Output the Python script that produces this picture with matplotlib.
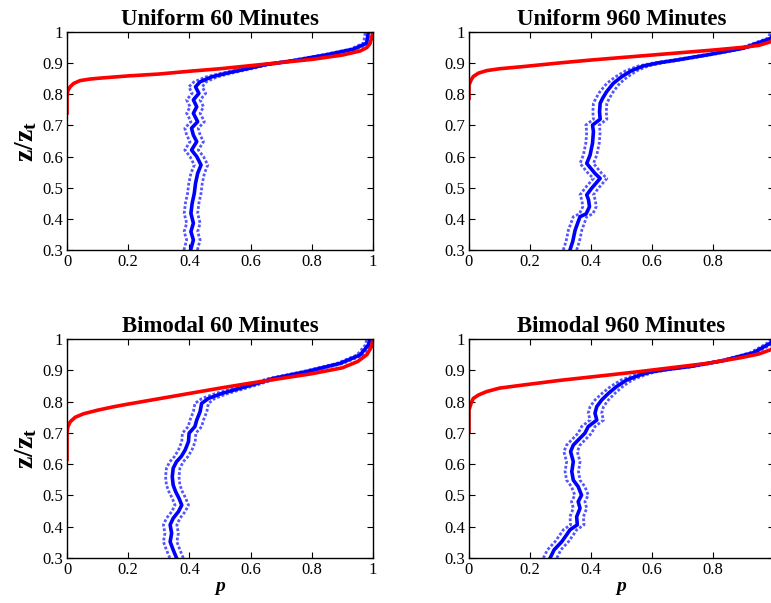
import matplotlib
matplotlib.use("Agg")
import matplotlib.pyplot as plt
import numpy as np

plt.rcParams['font.family'] = ['Liberation Serif', 'DejaVu Serif']
plt.rcParams['mathtext.fontset'] = 'custom'
plt.rcParams['mathtext.rm'] = 'Liberation Serif'
plt.rcParams['mathtext.it'] = 'Liberation Serif:italic'
plt.rcParams['mathtext.bf'] = 'Liberation Serif:bold'

titles = ["Uniform 60 Minutes", "Uniform 960 Minutes", "Bimodal 60 Minutes", "Bimodal 960 Minutes"]

# ---- red curves (p, z) ----
red_p_u60 = [0, 0, 0.003, 0.011, 0.022, 0.043, 0.076, 0.109, 0.2, 0.3, 0.4, 0.5, 0.6, 0.7, 0.8, 0.9,
             0.958, 0.98, 0.99, 0.995, 1.0]
red_z_u60 = [0.74, 0.793, 0.812, 0.825, 0.835, 0.844, 0.849, 0.852, 0.859, 0.865, 0.874, 0.882, 0.892,
             0.902, 0.912, 0.926, 0.939, 0.95, 0.962, 0.98, 1.0]

red_p_u960 = [0, 0, 0.007, 0.014, 0.031, 0.058, 0.1, 0.178, 0.3, 0.4, 0.5, 0.6, 0.7, 0.8, 0.9, 0.95,
              0.99, 1.0]
red_z_u960 = [0.787, 0.83, 0.846, 0.857, 0.868, 0.876, 0.882, 0.889, 0.901, 0.91, 0.918, 0.926, 0.934,
              0.942, 0.951, 0.957, 0.969, 0.98]

red_p_b60 = [0, 0, 0.003, 0.011, 0.027, 0.054, 0.098, 0.15, 0.2, 0.3, 0.4, 0.5, 0.6, 0.7, 0.8, 0.9, 0.95,
             0.98, 0.995, 1.0]
red_z_b60 = [0.615, 0.70, 0.72, 0.736, 0.75, 0.761, 0.772, 0.783, 0.792, 0.809, 0.826, 0.843, 0.859, 0.874,
             0.889, 0.908, 0.928, 0.95, 0.975, 1.0]

red_p_b960 = [0, 0, 0.007, 0.014, 0.031, 0.058, 0.1, 0.178, 0.3, 0.45, 0.56, 0.67, 0.78, 0.89, 0.95,
              0.99, 1.0]
red_z_b960 = [0.704, 0.773, 0.795, 0.81, 0.821, 0.832, 0.843, 0.853, 0.868, 0.884, 0.896, 0.909,
              0.922, 0.94, 0.952, 0.966, 0.975]

# ---- blue curves (p, z) and confidence half-widths ----
blue_p_u60 = [0.404, 0.413, 0.405, 0.413, 0.405, 0.409, 0.416, 0.420, 0.427, 0.438, 0.424, 0.407, 0.424,
              0.413, 0.407, 0.427, 0.413, 0.424, 0.413, 0.431, 0.420, 0.435, 0.473, 0.527, 0.593, 0.647,
              0.74, 0.849, 0.936, 0.979, 0.985]
blue_z_u60 = [0.300, 0.332, 0.359, 0.386, 0.418, 0.450, 0.482, 0.514, 0.546, 0.573, 0.600, 0.621, 0.648,
              0.669, 0.691, 0.712, 0.739, 0.760, 0.782, 0.803, 0.824, 0.840, 0.856, 0.869, 0.883, 0.895,
              0.908, 0.927, 0.945, 0.964, 1.0]
band_u60 = [0.022] * 21 + [0.02, 0.018, 0.016, 0.014, 0.013, 0.012, 0.011, 0.01, 0.01, 0.01]

blue_p_u960 = [0.331, 0.340, 0.348, 0.358, 0.364, 0.384, 0.395, 0.392, 0.386, 0.402, 0.430, 0.413, 0.386,
               0.397, 0.405, 0.408, 0.405, 0.430, 0.428, 0.430, 0.438, 0.451, 0.473, 0.500, 0.533, 0.572,
               0.621, 0.681, 0.79, 0.899, 0.99, 1.0]
blue_z_u960 = [0.300, 0.327, 0.364, 0.391, 0.407, 0.416, 0.439, 0.461, 0.477, 0.498, 0.530, 0.546, 0.578,
               0.605, 0.643, 0.680, 0.701, 0.720, 0.744, 0.771, 0.787, 0.808, 0.835, 0.856, 0.876, 0.891,
               0.901, 0.910, 0.928, 0.948, 0.980, 1.0]
band_u960 = [0.022] * 22 + [0.021, 0.02, 0.018, 0.016, 0.014, 0.012, 0.01, 0.01, 0.01, 0.01]

blue_p_b60 = [0.358, 0.347, 0.337, 0.342, 0.337, 0.347, 0.364, 0.375, 0.366, 0.355, 0.347, 0.344, 0.347,
              0.358, 0.373, 0.386, 0.397, 0.399, 0.418, 0.424, 0.435, 0.440, 0.462, 0.506, 0.571, 0.614,
              0.674, 0.783, 0.892, 0.958, 0.985, 0.99]
blue_z_b60 = [0.300, 0.326, 0.352, 0.379, 0.406, 0.427, 0.448, 0.469, 0.491, 0.512, 0.533, 0.560, 0.587,
              0.608, 0.624, 0.645, 0.672, 0.699, 0.720, 0.741, 0.768, 0.794, 0.810, 0.826, 0.844, 0.856,
              0.874, 0.896, 0.922, 0.949, 0.981, 1.0]
band_b60 = [0.022] * 22 + [0.021, 0.02, 0.018, 0.016, 0.014, 0.012, 0.01, 0.01, 0.01, 0.01]

blue_p_b960 = [0.266, 0.279, 0.304, 0.320, 0.331, 0.355, 0.353, 0.364, 0.358, 0.369, 0.358, 0.342, 0.337,
               0.342, 0.333, 0.342, 0.364, 0.380, 0.391, 0.419, 0.413, 0.419, 0.435, 0.457, 0.484, 0.517,
               0.561, 0.593, 0.65, 0.725, 0.834, 0.932, 0.987, 1.0]
blue_z_b960 = [0.300, 0.326, 0.352, 0.374, 0.390, 0.406, 0.432, 0.459, 0.480, 0.501, 0.528, 0.549, 0.576,
               0.608, 0.640, 0.661, 0.683, 0.699, 0.720, 0.741, 0.763, 0.784, 0.805, 0.826, 0.848, 0.869,
               0.885, 0.894, 0.903, 0.912, 0.931, 0.956, 0.986, 1.0]
band_b960 = [0.022] * 23 + [0.021, 0.02, 0.018, 0.016, 0.014, 0.013, 0.012, 0.01, 0.01, 0.01, 0.01]

red_p = [red_p_u60, red_p_u960, red_p_b60, red_p_b960]
red_z = [red_z_u60, red_z_u960, red_z_b60, red_z_b960]
blue_p = [blue_p_u60, blue_p_u960, blue_p_b60, blue_p_b960]
blue_z = [blue_z_u60, blue_z_u960, blue_z_b60, blue_z_b960]
bands = [band_u60, band_u960, band_b60, band_b960]

xticks = [0, 0.2, 0.4, 0.6, 0.8, 1.0]
xticklabels_left = ['0', '0.2', '0.4', '0.6', '0.8', '1']
xticklabels_right = ['0', '0.2', '0.4', '0.6', '0.8', '']  # '1' falls beyond the figure edge
yticks = [0.3, 0.4, 0.5, 0.6, 0.7, 0.8, 0.9, 1.0]
yticklabels = ['0.3', '0.4', '0.5', '0.6', '0.7', '0.8', '0.9', '1']

W, H = 771, 603
fig = plt.figure(figsize=(W / 100, H / 100), dpi=100)
boxes = [(67, 32, 306, 218), (469, 32, 305, 218), (67, 339, 306, 219), (469, 339, 305, 219)]

for i, (x0, y0, w, h) in enumerate(boxes):
    ax = fig.add_axes([x0 / W, 1 - (y0 + h) / H, w / W, h / H])
    bp = np.array(blue_p[i]); bz = np.array(blue_z[i]); bw = np.array(bands[i])
    ax.plot(bp - bw, bz, color='#2a2aff', lw=2.0, ls=(0, (1, 0.7)), alpha=0.8)
    ax.plot(bp + bw, bz, color='#2a2aff', lw=2.0, ls=(0, (1, 0.7)), alpha=0.8)
    ax.plot(bp, bz, color='blue', lw=2.6, solid_joinstyle='round')
    ax.plot(red_p[i], red_z[i], color='red', lw=2.6, solid_joinstyle='round')
    ax.set_xlim(0, 1)
    ax.set_ylim(0.3, 1)
    ax.set_xticks(xticks)
    ax.set_xticklabels(xticklabels_left if i % 2 == 0 else xticklabels_right)
    ax.set_yticks(yticks)
    ax.set_yticklabels(yticklabels)
    ax.tick_params(direction='in', top=True, right=True, length=4, width=0.8, labelsize=12, pad=3)
    for s in ax.spines.values():
        s.set_linewidth(1.0)
    ax.set_title(titles[i], fontsize=16.5, fontweight='bold', pad=5)
    if i % 2 == 0:
        ax.set_ylabel(r'$\mathbf{z/z_t}$', fontsize=20, labelpad=2)
    if i >= 2:
        ax.set_xlabel('p', fontsize=14, fontweight='bold', fontstyle='italic', labelpad=0)

fig.savefig('out.png', dpi=100)
